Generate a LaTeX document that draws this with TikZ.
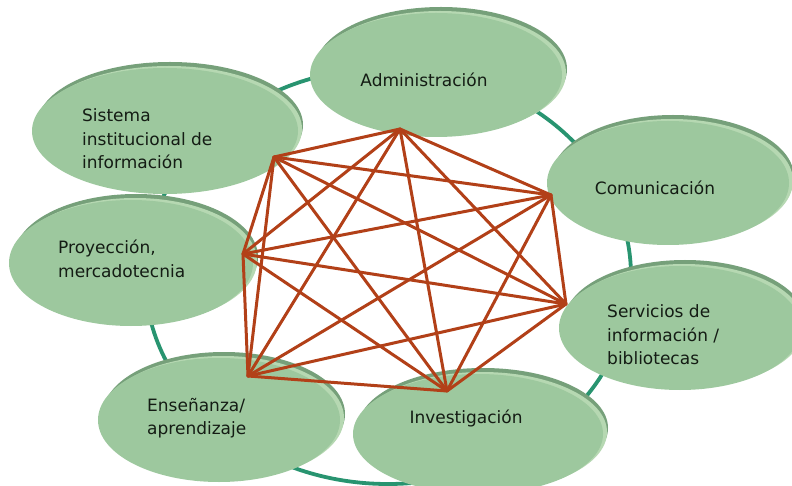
\documentclass[tikz,border=0pt]{standalone}
\usepackage{fontspec}
\setmainfont{DejaVu Sans}
\usetikzlibrary{shapes.geometric}
\definecolor{ringc}{RGB}{40,148,112}
\definecolor{bubfill}{RGB}{157,200,158}
\definecolor{bubdark}{RGB}{118,160,122}
\definecolor{bublight}{RGB}{182,216,178}
\definecolor{linkc}{RGB}{178,64,24}
\definecolor{txtc}{RGB}{20,28,20}
\tikzset{
  bub/.style={ellipse, fill=bubfill, inner sep=0pt},
  bubback/.style={ellipse, fill=bubdark, inner sep=0pt},
  bubrim/.style={ellipse, fill=bublight, inner sep=0pt},
  lbl/.style={inner sep=0pt, text=txtc, font=\fontsize{17}{23.5}\selectfont, align=left},
  link/.style={draw=linkc, line width=3pt, line cap=round},
  ring/.style={draw=ringc, line width=3.8pt}
}
\newcommand{\mybubble}[5]{%
  \node[bubback, minimum width=#4pt, minimum height=#5pt] (#1b) at (#2+5,#3-6) {};
  \node[bubrim, minimum width=#4pt, minimum height=#5pt] (#1r) at (#2+4,#3-2) {};
  \node[bub, minimum width=#4pt, minimum height=#5pt] (#1) at (#2,#3) {};
}
\begin{document}
\begin{tikzpicture}[x=1pt,y=-1pt]
\useasboundingbox (0,0) rectangle (792,486);
\fill[white] (0,0) rectangle (792,486);
% ring
\draw[ring] (388,276) ellipse [x radius=243, y radius=208];
% bubbles
\mybubble{sist}{165}{131}{266}{126}
\mybubble{admin}{436}{75}{252}{124}
\mybubble{com}{668}{183}{242}{124}
\mybubble{serv}{680}{328}{242}{124}
\mybubble{inv}{478}{434}{250}{120}
\mybubble{ens}{219}{420}{242}{124}
\mybubble{proy}{131}{263}{244}{126}
% labels
\node[lbl, anchor=west] (tsist) at (82,139) {Sistema\\institucional de\\información};
\node[lbl, anchor=center] (tadmin) at (424,80) {Administración};
\node[lbl, anchor=center] (tcom) at (655,188) {Comunicación};
\node[lbl, anchor=west] (tserv) at (607,335) {Servicios de\\información /\\bibliotecas};
\node[lbl, anchor=center] (tinv) at (466,418) {Investigación};
\node[lbl, anchor=west] (tens) at (147,418) {Enseñanza/\\aprendizaje};
\node[lbl, anchor=west] (tproy) at (58,259) {Proyección,\\mercadotecnia};
% graph vertices
\coordinate (v1) at (400,129);
\coordinate (v2) at (551,195);
\coordinate (v3) at (566,304);
\coordinate (v4) at (447,391);
\coordinate (v5) at (248,376);
\coordinate (v6) at (243,254);
\coordinate (v7) at (274,157);
\foreach \a/\b in {v1/v2,v1/v3,v1/v4,v1/v5,v1/v6,v1/v7,
                   v2/v3,v2/v4,v2/v5,v2/v6,v2/v7,
                   v3/v4,v3/v5,v3/v6,v3/v7,
                   v4/v5,v4/v6,v4/v7,
                   v5/v6,v5/v7,
                   v6/v7}
  \draw[link] (\a) -- (\b);
\end{tikzpicture}
\end{document}
